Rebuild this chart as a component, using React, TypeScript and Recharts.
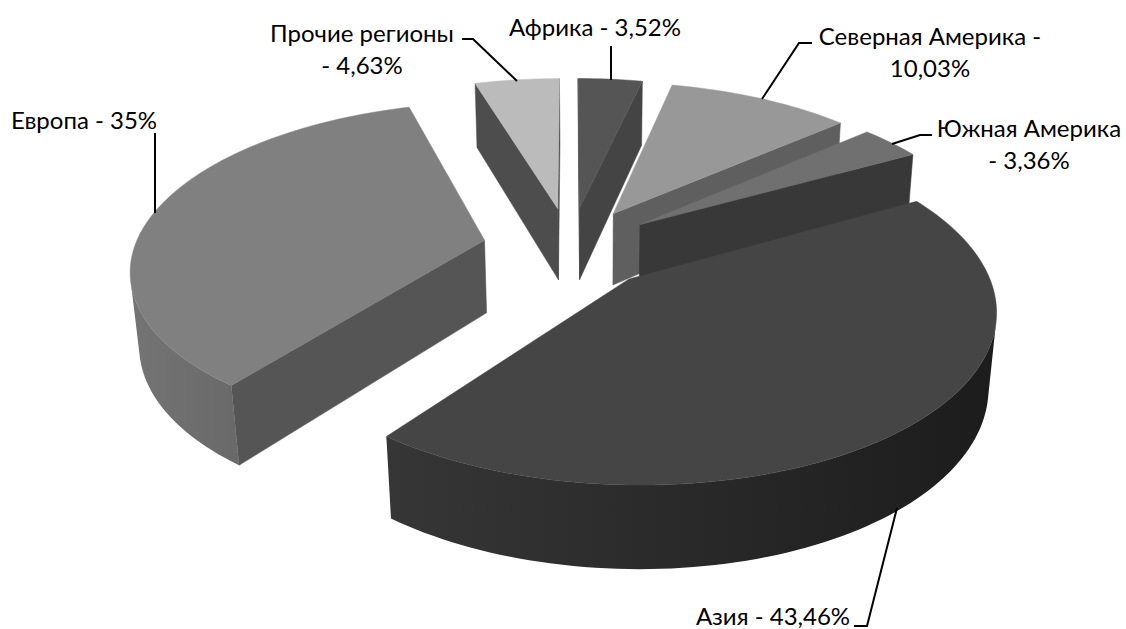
import { PieChart, Pie } from 'recharts'

// drawn back to front, so the order starts at Европа and ends at Азия
const REGIONS = ['Европа', 'Прочие регионы', 'Африка', 'Северная Америка', 'Южная Америка', 'Азия']
const SHARES = [35, 4.63, 3.52, 10.03, 3.36, 43.46]
const pieData = REGIONS.map((name, i) => ({ name, value: SHARES[i] }))

const TOP_COLORS = ['#808080', '#bbbbbb', '#555555', '#989898', '#707070', '#454545']
const WALL_COLORS = ['#555555', '#4d4d4d', '#444444', '#5f5f5f', '#383838', '#333333']
const RIM_STOPS = [
  ['#747474', '#696969'],
  ['#4d4d4d', '#4d4d4d'],
  ['#444444', '#444444'],
  ['#5f5f5f', '#5f5f5f'],
  ['#383838', '#383838'],
  ['#363636', '#1c1c1c'],
]

// where each label sits: centre x, centre y of the first line, leader line points
const LABEL_LAYOUT = [
  { x: 84, y: 119, lines: 1, dashFirst: false, leader: [[155, 133], [155, 213]] },
  { x: 362, y: 32, lines: 2, dashFirst: false, leader: [[462, 39], [473, 39], [517, 81]] },
  { x: 595, y: 26, lines: 1, dashFirst: false, leader: [[611, 46], [611, 80]] },
  { x: 930, y: 35, lines: 2, dashFirst: true, leader: [[812, 43], [799, 43], [762, 99]] },
  { x: 1029, y: 127, lines: 2, dashFirst: false, leader: [[932, 135], [920, 135], [892, 144]] },
  { x: 773, y: 615, lines: 1, dashFirst: false, leader: [[854, 626], [867, 626], [897, 508]] },
]
const LINE_GAP = 32.5
const FONT = "Lato, 'Open Sans', sans-serif"

// camera of the tilted pie, one pie radius = 1 world unit
const VANISH_X = 570
const HORIZON_Y = -774
const PLANE_W = 6435
const SCALE_X = 2205
const PIE_DEPTH = 6.3
const EXPLODE = 0.25
const THICK_X = 72
const THICK_Y = 498.7
const THICK_W = 0.121

type Pt = { x: number; y: number }

function project(wx: number, s: number, z: number): Pt {
  const w = s + THICK_W * z
  return {
    x: (VANISH_X * s + SCALE_X * wx + THICK_X * z) / w,
    y: (HORIZON_Y * s + PLANE_W + THICK_Y * z) / w,
  }
}

const toPath = (pts: Pt[]) =>
  pts.map((p, i) => `${i ? 'L' : 'M'}${p.x.toFixed(2)} ${p.y.toFixed(2)}`).join(' ') + ' Z'

const area = (pts: Pt[]) =>
  pts.reduce((sum, p, i) => {
    const q = pts[(i + 1) % pts.length]
    return sum + p.x * q.y - q.x * p.y
  }, 0)

function Slice3D(props: any) {
  const { startAngle, endAngle, index } = props
  const rad = Math.PI / 180
  const a0 = 90 - startAngle
  const a1 = 90 - endAngle
  const mid = ((a0 + a1) / 2) * rad
  const ox = EXPLODE * Math.sin(mid)
  const os = PIE_DEPTH + EXPLODE * Math.cos(mid)
  const steps = Math.max(6, Math.ceil((a1 - a0) / 1.5))

  const rim = (z: number) => {
    const out: Pt[] = []
    for (let i = 0; i <= steps; i++) {
      const t = (a0 + ((a1 - a0) * i) / steps) * rad
      out.push(project(ox + Math.sin(t), os + Math.cos(t), z))
    }
    return out
  }
  const rimTop = rim(0)
  const rimBot = rim(1)
  const apexTop = project(ox, os, 0)
  const apexBot = project(ox, os, 1)
  const topFace = [apexTop, ...rimTop]
  const topSign = Math.sign(area(topFace))

  const isVisible = (quad: Pt[]) => Math.sign(area(quad)) !== topSign

  const startWall = [apexTop, rimTop[0], rimBot[0], apexBot]
  const endWall = [rimTop[steps], apexTop, apexBot, rimBot[steps]]

  // only the part of the curved wall that looks at the camera
  const idx: number[] = []
  for (let i = 0; i < steps; i++) {
    if (isVisible([rimTop[i], rimTop[i + 1], rimBot[i + 1], rimBot[i]])) idx.push(i)
  }
  let curved: Pt[] = []
  if (idx.length) {
    const first = idx[0]
    const last = idx[idx.length - 1] + 1
    curved = [...rimTop.slice(first, last + 1), ...rimBot.slice(first, last + 1).reverse()]
  }
  const xs = curved.map((p) => p.x)
  const gradId = `rim-${index}`
  const wall = WALL_COLORS[index]
  const top = TOP_COLORS[index]

  return (
    <g>
      {curved.length > 0 && (
        <defs>
          <linearGradient
            id={gradId}
            gradientUnits="userSpaceOnUse"
            x1={Math.min(...xs)}
            x2={Math.max(...xs)}
            y1={0}
            y2={0}
          >
            <stop offset="0%" stopColor={RIM_STOPS[index][0]} />
            <stop offset="100%" stopColor={RIM_STOPS[index][1]} />
          </linearGradient>
        </defs>
      )}
      {isVisible(startWall) && <path d={toPath(startWall)} fill={wall} stroke={wall} strokeWidth={0.5} />}
      {isVisible(endWall) && <path d={toPath(endWall)} fill={wall} stroke={wall} strokeWidth={0.5} />}
      {curved.length > 0 && <path d={toPath(curved)} fill={`url(#${gradId})`} />}
      <path d={toPath(topFace)} fill={top} stroke={top} strokeWidth={0.5} />
    </g>
  )
}

function SliceLabel(props: any) {
  const { index, name, value } = props
  const layout = LABEL_LAYOUT[index]
  const pct = `${String(value).replace('.', ',')}%`
  let lines = [`${name} - ${pct}`]
  if (layout.lines === 2) lines = layout.dashFirst ? [`${name} -`, pct] : [name, `- ${pct}`]
  return (
    <g>
      <polyline
        points={layout.leader.map((p) => p.join(',')).join(' ')}
        fill="none"
        stroke="#000000"
        strokeWidth={2}
      />
      {lines.map((line, i) => (
        <text
          key={i}
          x={layout.x}
          y={layout.y + i * LINE_GAP}
          textAnchor="middle"
          dominantBaseline="central"
          fontFamily={FONT}
          fontSize={24}
          fill="#000000"
        >
          {line}
        </text>
      ))}
    </g>
  )
}

// Европа starts where Африка, Северная и Южная Америка and Азия have ended
const firstAngle = 90 - 3.6 * (3.52 + 10.03 + 3.36 + 43.46)

export default function App() {
  return (
    <div style={{ position: 'absolute', left: 0, top: 0, width: 1126, height: 629, background: '#fff' }}>
      <PieChart width={1126} height={629} margin={{ top: 0, right: 0, bottom: 0, left: 0 }}>
        <Pie
          data={pieData}
          dataKey="value"
          nameKey="name"
          cx={571}
          cy={280}
          outerRadius={200}
          startAngle={firstAngle}
          endAngle={firstAngle - 360}
          stroke="none"
          isAnimationActive={false}
          shape={Slice3D}
          label={SliceLabel}
          labelLine={false}
        />
      </PieChart>
    </div>
  )
}
